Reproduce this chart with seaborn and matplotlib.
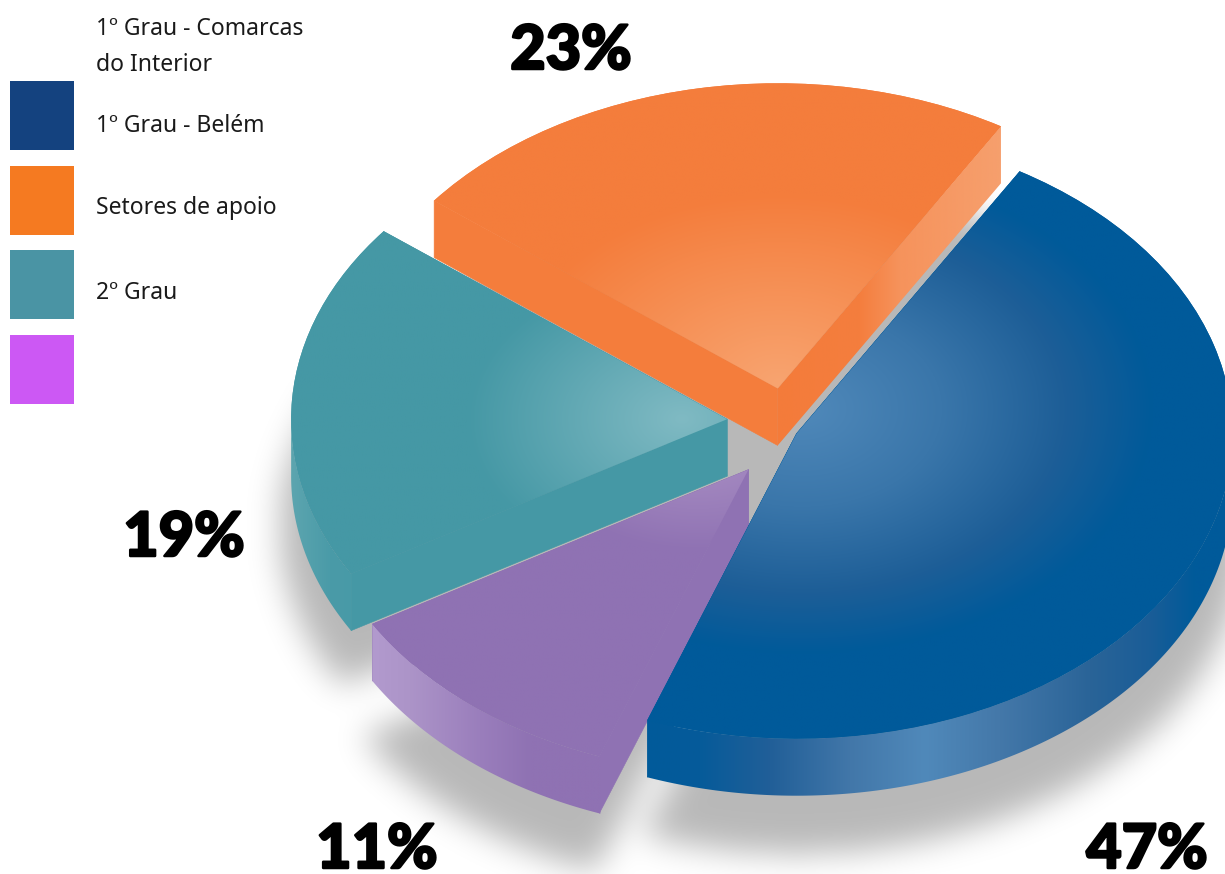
import numpy as np
import matplotlib
matplotlib.use("Agg")
import matplotlib.pyplot as plt
from matplotlib.colors import to_rgb
from matplotlib.patches import PathPatch, Rectangle
from matplotlib.path import Path
import matplotlib.patheffects as pe
import seaborn as sns

# ---- data ----
VALUES = [47, 23, 19, 11]
PERCENT_LABELS = ["47%", "23%", "19%", "11%"]
LEGEND_LABELS = ["1º Grau - Belém", "Setores de apoio", "2º Grau", ""]
HEADER_LABEL = "1º Grau - Comarcas\ndo Interior"
SWATCH_COLORS = ["#14427F", "#F57A21", "#4A94A4", "#CC58F4"]
BASE_COLORS = ["#005A9A", "#F47D3C", "#4598A5", "#8F72B3"]

# ---- layout ----
W, H = 1225, 874
K = 0.70          # vertical squash of the pie
DEPTH = 57 / K    # extrusion, in pie data units
R = 436
START = -110
CX, CY = 785, 426
EXPLODE = [15, 56, 60, 68]
NUDGE_PX = [(-2, 3), (3, 1), (2, -4), (7, 7)]
GLOW_OFFSET = [(5, 25), (0, 5), (-45, 0), (-50, 45)]
GLOW_RADIUS = [350, 270, 215, 180]
GLOW_STOPS = [
    [(0, "#5089BA"), (0.4, "#3A76AA"), (0.75, "#1D5E97"), (1, "#005A9A")],
    [(0, "#F8A470"), (1, "#F47D3C")],
    [(0, "#80BAC3"), (1, "#4598A5")],
    [(0, "#B096C8"), (1, "#8F72B3")],
]
Z_ORDER = [40, 10, 20, 30]
RIM_STOPS = [
    [(640, "#005A9A"), (700, "#065B9A"), (770, "#215F98"), (850, "#4277A9"), (925, "#5089BA"),
     (1000, "#4478A9"), (1090, "#2A6498"), (1150, "#1A5D97"), (1195, "#005A9A"), (1235, "#005A9A")],
    [(400, "#F47D3C"), (1100, "#F47D3C")],
    [(280, "#62A8B1"), (330, "#4A9BA8"), (400, "#4598A5")],
    [(360, "#B49CD0"), (410, "#AC94C8"), (480, "#9A7EBC"), (530, "#8F72B3"), (620, "#8F72B3")],
]
FACE_STOPS = [
    None,
    [(770, "#F47B3A"), (860, "#F47E3E"), (900, "#F6935C"), (1005, "#F6A06E")],
    None,
    None,
]
PCT_POS = [(1147, 868), (571, 69), (184, 556), (377, 868)]
SWATCH_TOPS = [81, 166, 250, 335]
LEGEND_Y = [126, 208, 293]


def Y(py):
    return (H - py) / K


sns.set_theme(style="white")
fig = plt.figure(figsize=(W / 100, H / 100), dpi=100, facecolor="white")
ax = fig.add_axes([0, 0, 1, 1])
ax.set_facecolor("white")
palette = sns.color_palette(BASE_COLORS)


def set_limits():
    ax.set_aspect("auto")
    ax.set_xlim(0, W)
    ax.set_ylim(0, H / K)
    ax.axis("off")


# main pie
wedges, _ = ax.pie(VALUES, startangle=START, explode=EXPLODE, center=(CX, Y(CY)), radius=R,
                   colors=palette, wedgeprops={"linewidth": 0})
for wd, (nx, ny) in zip(wedges, NUDGE_PX):
    c = wd.center
    wd.set_center((c[0] + nx, c[1] - ny / K))
set_limits()


# soft floor shadow: the wedges' union, dropped and blurred
def floor_shadow(drop_px=108, grow=12, sigma_px=16, step=3, strength=0.28):
    xs = np.arange(-120, W + 120, step, dtype=float)
    pys = np.arange(-120, H + 120, step, dtype=float)
    xx, pp = np.meshgrid(xs, pys)
    yy = Y(pp)
    mask = np.zeros_like(xx, dtype=bool)
    for wd in wedges:
        cx, cy = wd.center
        dx = xx - cx
        dy = yy - (cy - drop_px / K)
        ang = (np.degrees(np.arctan2(dy, dx)) - wd.theta1) % 360
        mask |= (np.hypot(dx, dy) <= R + grow) & (ang <= (wd.theta2 - wd.theta1))
    mask |= np.hypot(xx - CX, yy - Y(CY)) <= 330
    radius = int(3 * sigma_px / step)
    kern = np.exp(-0.5 * (np.arange(-radius, radius + 1) * step / sigma_px) ** 2)
    kern /= kern.sum()
    blur = np.apply_along_axis(lambda r: np.convolve(r, kern, mode="same"), 0, mask.astype(float))
    blur = np.apply_along_axis(lambda r: np.convolve(r, kern, mode="same"), 1, blur)
    rgba = np.zeros(blur.shape + (4,))
    rgba[..., 3] = strength * blur
    ax.imshow(rgba, extent=(xs[0], xs[-1], Y(pys[-1]), Y(pys[0])), origin="upper", aspect="auto",
              zorder=1, interpolation="bilinear")


floor_shadow()


def hgrad(path, stops, z):
    xs = np.array([s[0] for s in stops], dtype=float)
    cols = np.array([to_rgb(s[1]) for s in stops])
    grid = np.linspace(xs.min(), xs.max(), 600)
    row = np.stack([np.interp(grid, xs, cols[:, i]) for i in range(3)], axis=-1)[None, :, :]
    ymin, ymax = path.vertices[:, 1].min(), path.vertices[:, 1].max()
    im = ax.imshow(row, extent=(xs.min(), xs.max(), ymin, ymax), aspect="auto", origin="lower",
                   zorder=z, interpolation="bilinear")
    clip = PathPatch(path, transform=ax.transData, facecolor="none", edgecolor="none")
    ax.add_patch(clip)
    im.set_clip_path(clip)


def flat(path, color, z):
    ax.add_patch(PathPatch(path, facecolor=color, edgecolor=color, linewidth=0.4, zorder=z))


for i, wd in enumerate(wedges):
    z = Z_ORDER[i]
    cx, cy = wd.center
    t1, t2 = wd.theta1, wd.theta2
    base = BASE_COLORS[i]

    # straight side faces
    for t, stops in ((t2, None), (t1, FACE_STOPS[i])):
        px = cx + R * np.cos(np.radians(t))
        py = cy + R * np.sin(np.radians(t))
        verts = [(cx, cy), (px, py), (px, py - DEPTH), (cx, cy - DEPTH), (cx, cy)]
        path = Path(verts, closed=True)
        if stops is not None:
            hgrad(path, stops, z)
        else:
            flat(path, base, z)

    # outer rim
    angs = np.arange(t1, t2 + 0.25, 0.25)
    sins = np.sin(np.radians(angs))
    angs = angs[sins <= 0.01]
    if len(angs) > 1:
        top = np.column_stack([cx + R * np.cos(np.radians(angs)), cy + R * np.sin(np.radians(angs))])
        low = top[::-1] - np.array([0, DEPTH])
        verts = np.vstack([top, low, top[:1]])
        hgrad(Path(verts, closed=True), RIM_STOPS[i], z + 1)

    # top surface with radial glow
    wd.set_zorder(z + 2)
    gx = cx + GLOW_OFFSET[i][0]
    gy = cy + GLOW_OFFSET[i][1] / K
    xg = np.linspace(gx - 520, gx + 520, 500)
    yg = np.linspace(gy - 520, gy + 520, 500)
    xx, yy = np.meshgrid(xg, yg)
    t = np.clip(np.hypot(xx - gx, yy - gy) / GLOW_RADIUS[i], 0, 1)
    pos = [s[0] for s in GLOW_STOPS[i]]
    cols = np.array([to_rgb(s[1]) for s in GLOW_STOPS[i]])
    rgb = np.stack([np.interp(t, pos, cols[:, c]) for c in range(3)], axis=-1)
    im = ax.imshow(rgb, extent=(xg[0], xg[-1], yg[0], yg[-1]), origin="lower", aspect="auto",
                   zorder=z + 3, interpolation="bilinear")
    im.set_clip_path(wd)

set_limits()

# overlay in pixel coordinates for swatches and texts
ov = fig.add_axes([0, 0, 1, 1], facecolor="none")
ov.set_xlim(0, W)
ov.set_ylim(H, 0)
ov.axis("off")

for top_y, col in zip(SWATCH_TOPS, SWATCH_COLORS):
    ov.add_patch(Rectangle((10, top_y), 64, 69, facecolor=col, edgecolor="none"))

LEG_FONT = dict(fontsize=16.5, family="Noto Sans", color="#1a1a1a", va="center", ha="left")
ov.text(96, 29, HEADER_LABEL.split("\n")[0], **LEG_FONT)
ov.text(96, 65, HEADER_LABEL.split("\n")[1], **LEG_FONT)
for y, lab in zip(LEGEND_Y, LEGEND_LABELS):
    ov.text(96, y, lab, **LEG_FONT)

for (x, y), lab in zip(PCT_POS, PERCENT_LABELS):
    ov.text(x, y, lab, fontsize=44, family="Lato", fontweight="black", color="black",
            ha="center", va="baseline",
            path_effects=[pe.withStroke(linewidth=1.8, foreground="black")])

fig.savefig("out.png", dpi=100, facecolor="white")
